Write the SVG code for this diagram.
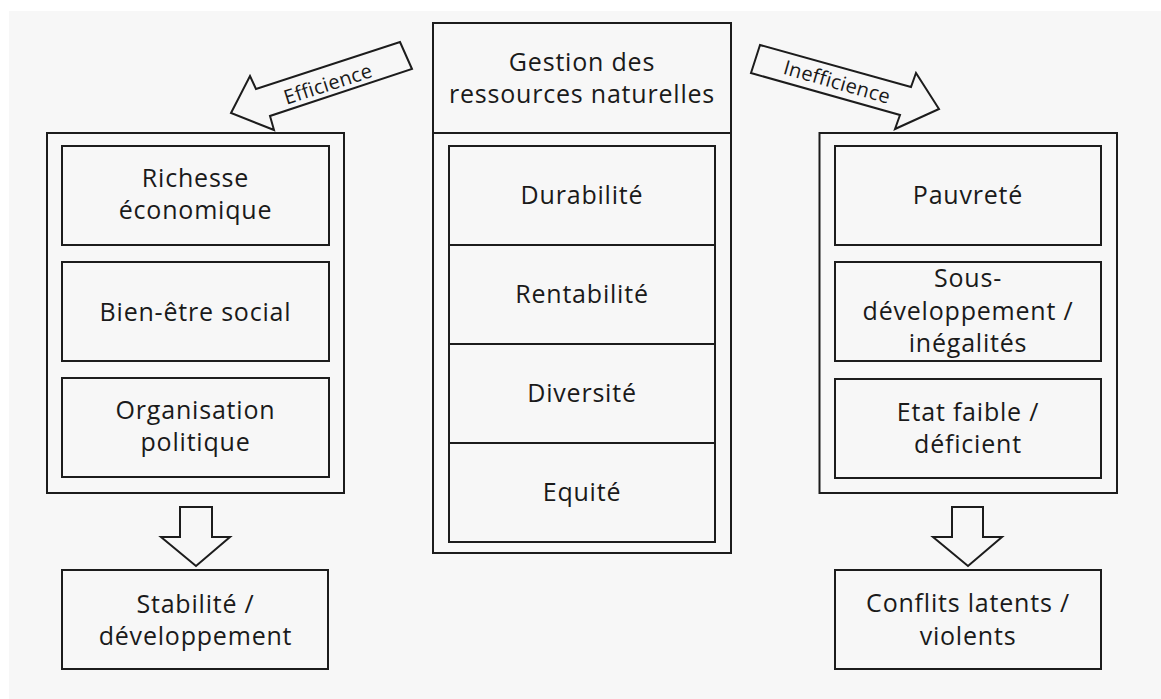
<svg xmlns="http://www.w3.org/2000/svg" width="1161" height="699" viewBox="0 0 1161 699">
<style>
.box{fill:#f7f7f7;stroke:#1c1c1c;stroke-width:2}
.ln{stroke:#1c1c1c;stroke-width:2;fill:none}
.arr{fill:#f7f7f7;stroke:#1c1c1c;stroke-width:2;stroke-linejoin:miter}
text{font-family:"Open Sans","Noto Sans","DejaVu Sans",sans-serif;font-size:25px;fill:#1a1a1a;text-anchor:middle;letter-spacing:0.8px}
.lbl{font-size:20px;letter-spacing:0.3px}
</style>
<rect x="0" y="0" width="1161" height="699" fill="#ffffff"/>
<rect x="9" y="11" width="1152" height="688" fill="#f7f7f7"/>

<g id="center">
<rect class="box" x="433" y="23" width="298" height="530"/>
<line class="ln" x1="433" y1="133" x2="731" y2="133"/>
<text x="582" y="71">Gestion des</text>
<text x="582" y="103">ressources naturelles</text>
<rect class="box" x="449" y="146" width="266" height="396"/>
<line class="ln" x1="449" y1="245" x2="715" y2="245"/>
<line class="ln" x1="449" y1="344" x2="715" y2="344"/>
<line class="ln" x1="449" y1="443" x2="715" y2="443"/>
</g>
<g id="durabilite"><text x="582" y="204">Durabilité</text></g>
<g id="rentabilite"><text x="582" y="303">Rentabilité</text></g>
<g id="diversite"><text x="582" y="402">Diversité</text></g>
<g id="equite"><text x="582" y="501">Equité</text></g>

<g id="left-panel">
<rect class="box" x="47" y="133" width="297" height="360"/>
</g>
<g id="richesse">
<rect class="box" x="62" y="146" width="267" height="99"/>
<text x="195.5" y="187">Richesse</text>
<text x="195.5" y="219">économique</text>
</g>
<g id="bien-etre">
<rect class="box" x="62" y="262" width="267" height="99"/>
<text x="195.5" y="321">Bien-être social</text>
</g>
<g id="organisation">
<rect class="box" x="62" y="378" width="267" height="99"/>
<text x="195.5" y="419">Organisation</text>
<text x="195.5" y="451">politique</text>
</g>
<g id="stabilite">
<rect class="box" x="62" y="570" width="266" height="99"/>
<text x="195.5" y="613">Stabilité /</text>
<text x="195.5" y="645">développement</text>
</g>

<g id="right-panel">
<rect class="box" x="819.5" y="133" width="297.5" height="360"/>
</g>
<g id="pauvrete">
<rect class="box" x="835" y="146" width="266" height="99"/>
<text x="968" y="204">Pauvreté</text>
</g>
<g id="sous-developpement">
<rect class="box" x="835" y="262" width="266" height="99"/>
<text x="968" y="287">Sous-</text>
<text x="968" y="320">développement /</text>
<text x="968" y="352">inégalités</text>
</g>
<g id="etat-faible">
<rect class="box" x="835" y="379" width="266" height="99"/>
<text x="968" y="421">Etat faible /</text>
<text x="968" y="453">déficient</text>
</g>
<g id="conflits">
<rect class="box" x="835" y="570" width="266" height="99"/>
<text x="968" y="612">Conflits latents /</text>
<text x="968" y="645">violents</text>
</g>

<g id="connectors">
<g id="efficience-arrow">
<polygon class="arr" points="400,42 412,69 270,116 274,130 231,113 250,76 256,89"/>
<text class="lbl" x="328" y="91" transform="rotate(-18 328 84)">Efficience</text>
</g>
<g id="inefficience-arrow">
<polygon class="arr" points="760,45 751,73 900,115 895,129 939,109 916,73 911,87"/>
<text class="lbl" x="837" y="89" transform="rotate(16 837 82)">Inefficience</text>
</g>
<polygon class="arr" points="180,507 212,507 212,537 230,537 196,566 161,537 180,537"/>
<polygon class="arr" points="952,507 983,507 983,537 1002,537 968,566 933,537 952,537"/>
</g>
</svg>
